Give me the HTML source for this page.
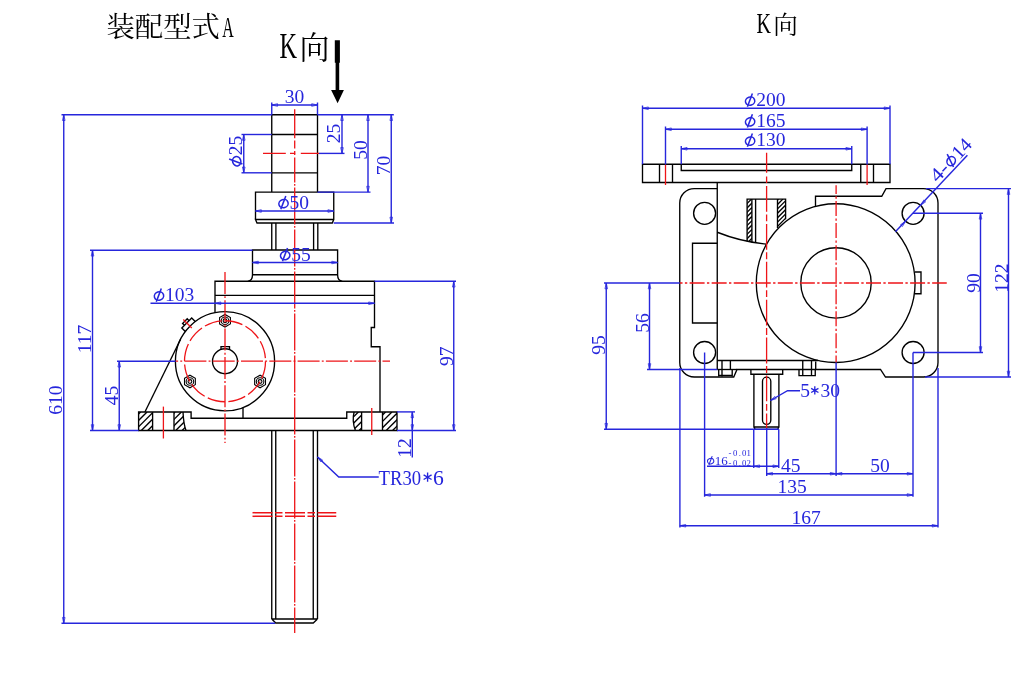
<!DOCTYPE html>
<html><head><meta charset="utf-8"><title>Drawing</title>
<style>
html,body{margin:0;padding:0;background:#fff;}
svg{display:block;will-change:transform;}
.k{fill:none;stroke:#000;stroke-width:1.35;}
.k2{fill:none;stroke:#000;stroke-width:1.1;}
.r2{fill:none;stroke:#ee1418;stroke-width:1.5;}
.b{fill:none;stroke:#2626dc;stroke-width:1.4;}
.as{fill:none;stroke:#2626dc;stroke-width:1.35;}
.r{fill:none;stroke:#ee1418;stroke-width:1.3;}
.ar{fill:none;stroke:#2626dc;stroke-width:0.75;}
.ph{fill:none;stroke:#2626dc;stroke-width:1.55;}
.t{font-family:"Liberation Serif",serif;fill:#2626dc;}
.tm{font-family:"Liberation Mono",monospace;fill:#2626dc;}
.tk{font-family:"Liberation Serif","Noto Serif CJK SC",serif;fill:#000;}
.g{fill:#000;}
</style></head><body>
<svg width="1024" height="674" viewBox="0 0 1024 674">
<title>装配型式A / K向</title>
<rect width="1024" height="674" fill="#fff"/>
<text class="tk" x="106.5" y="37.4" font-size="28" text-anchor="start" textLength="113.5" lengthAdjust="spacingAndGlyphs">装配型式</text>
<text class="tk" x="222.2" y="36.8" font-size="29.8" text-anchor="start" textLength="11.5" lengthAdjust="spacingAndGlyphs">A</text>
<text class="tk" x="279.4" y="57.6" font-size="36.5" text-anchor="start" textLength="17.5" lengthAdjust="spacingAndGlyphs">K</text>
<text class="tk" x="299.5" y="58.8" font-size="32" text-anchor="start" textLength="30" lengthAdjust="spacingAndGlyphs">向</text>
<text class="tk" x="756.5" y="32.9" font-size="30" text-anchor="start" textLength="14.5" lengthAdjust="spacingAndGlyphs">K</text>
<text class="tk" x="773.3" y="33.6" font-size="25.5" text-anchor="start" textLength="24.6" lengthAdjust="spacingAndGlyphs">向</text>
<path fill="#000" d="M334.8,40.3H339.9V62.7H339.2V90H343.9L337.6,103.2L331.1,90H335.6V62.7H334.8Z"/>
<path class="k" d="M271.75,192.1V114.7H317.5V192.1"/>
<path class="k" d="M271.75,134.5L317.5,134.5"/>
<path class="k" d="M271.75,172.8L317.5,172.8"/>
<path class="k" d="M255.5,219.5V192.1H333.75V219.5L332.3,223H257L255.5,219.5H333.75"/>
<path class="k" d="M271.75,223L271.75,250"/>
<path class="k" d="M275.9,223L275.9,250"/>
<path class="k" d="M313.6,223L313.6,250"/>
<path class="k" d="M317.8,223L317.8,250"/>
<path class="k" d="M247.8,281.3Q252.5,280.6 252.5,274.7V250H337.6V274.7Q337.6,280.6 342.3,281.3M252.5,274.7H337.6"/>
<path class="k" d="M215,312.5V281.25H374.5V327.5H371.25V346.75H380V412"/>
<path class="k" d="M215,295.3L374.5,295.3"/>
<circle class="k" cx="225" cy="361.25" r="49.6"/>
<path class="k" d="M221,349.41V346.6H229.5V349.59"/>
<circle class="k" cx="225" cy="361.25" r="12.5"/>
<polygon class="k2" points="230.41,323.88 225.00,327.00 219.59,323.88 219.59,317.62 225.00,314.50 230.41,317.62"/>
<circle class="k2" cx="225" cy="320.75" r="3.8"/>
<circle class="k2" cx="225" cy="320.75" r="1.9"/>
<polygon class="k2" points="195.34,384.62 189.93,387.75 184.51,384.62 184.51,378.38 189.93,375.25 195.34,378.38"/>
<circle class="k2" cx="189.926" cy="381.5" r="3.8"/>
<circle class="k2" cx="189.926" cy="381.5" r="1.9"/>
<polygon class="k2" points="265.49,384.62 260.07,387.75 254.66,384.62 254.66,378.38 260.07,375.25 265.49,378.38"/>
<circle class="k2" cx="260.074" cy="381.5" r="3.8"/>
<circle class="k2" cx="260.074" cy="381.5" r="1.9"/>
<path class="k" d="M144.9,412L180.459,339.426"/>
<g transform="translate(225,361.25) rotate(-135)"><path class="k" d="M49.1,-7H54.1V7H49.1M54.1,-3.3H56.7V3.3H54.1"/><path class="r" d="M47,0H59"/></g>
<path class="k" d="M138.6,412H191.1V418.25H346.75V412H397V430.5H138.6Z"/>
<path class="k" d="M243,407.469L243,418.25"/>
<clipPath id="h1"><rect x="138.6" y="412" width="14" height="18.5"/></clipPath>
<clipPath id="h2"><path d="M174,412H183Q183.6,424 186,430.5H174Z"/></clipPath>
<clipPath id="h3"><path d="M361.6,412H354.1Q351.8,421 355.4,430.5H361.6Z"/></clipPath>
<clipPath id="h4"><rect x="382.5" y="412" width="14.5" height="18.5"/></clipPath>
<g clip-path="url(#h1)">
<path class="k" d="M122.1,430.5L140.6,412"/>
<path class="k" d="M128.5,430.5L147,412"/>
<path class="k" d="M134.9,430.5L153.4,412"/>
<path class="k" d="M141.3,430.5L159.8,412"/>
<path class="k" d="M147.7,430.5L166.2,412"/>
</g>
<g clip-path="url(#h2)">
<path class="k" d="M156.5,430.5L175,412"/>
<path class="k" d="M162.9,430.5L181.4,412"/>
<path class="k" d="M169.3,430.5L187.8,412"/>
<path class="k" d="M175.7,430.5L194.2,412"/>
<path class="k" d="M182.1,430.5L200.6,412"/>
</g>
<g clip-path="url(#h3)">
<path class="k" d="M333.5,430.5L352,412"/>
<path class="k" d="M339.9,430.5L358.4,412"/>
<path class="k" d="M346.3,430.5L364.8,412"/>
<path class="k" d="M352.7,430.5L371.2,412"/>
<path class="k" d="M359.1,430.5L377.6,412"/>
</g>
<g clip-path="url(#h4)">
<path class="k" d="M367,430.5L385.5,412"/>
<path class="k" d="M373.4,430.5L391.9,412"/>
<path class="k" d="M379.8,430.5L398.3,412"/>
<path class="k" d="M386.2,430.5L404.7,412"/>
<path class="k" d="M392.6,430.5L411.1,412"/>
</g>
<path class="k" d="M152.6,412L152.6,430.5"/>
<path class="k" d="M174,412L174,430.5"/>
<path class="k" d="M183,412Q183.6,424 186,430.5"/>
<path class="k" d="M361.6,412L361.6,430.5"/>
<path class="k" d="M382.5,412L382.5,430.5"/>
<path class="k" d="M354.1,412Q351.8,421 355.4,430.5"/>
<path class="k" d="M271.75,430.5L271.75,619"/>
<path class="k" d="M275.75,430.5L275.75,619"/>
<path class="k" d="M313.25,430.5L313.25,619"/>
<path class="k" d="M317.5,430.5L317.5,619"/>
<path class="k" d="M271.75,619H317.5M271.75,619L275.75,623H313.25L317.5,619"/>
<path class="r" d="M294.7,109.2V138.2M294.7,140.5V148.5M294.7,150.9V155.1"/>
<path class="r" d="M294.7,157.5L294.7,633" stroke-dasharray="37 1.7 1.6 1.7" stroke-dashoffset="12.1"/>
<path class="r" d="M263,153.4H285.8M290,153.4H295.2M300.8,153.4H319"/>
<path class="r" d="M225,272L225,443" stroke-dasharray="22 2.2 1.9 2.2"/>
<path class="r" d="M175.5,361.1L390,361.1" stroke-dasharray="22 2.2 1.9 2.2" stroke-dashoffset="19.4"/>
<circle class="r" cx="225" cy="361.25" r="40.5" stroke-dasharray="17.7 3.5"/>
<path class="r" d="M163.4,406.6L163.4,438.5"/>
<path class="r" d="M371.75,408L371.75,435"/>
<path class="r2" d="M252.5,512.7L336.25,512.7" stroke-dasharray="20 2.5 7.5 2.5"/>
<path class="r2" d="M252.5,516.3L336.25,516.3" stroke-dasharray="20 2.5 7.5 2.5"/>
<path class="b" d="M61.5,114.7L271.75,114.7"/>
<path class="b" d="M317.5,114.7L393.8,114.7"/>
<path class="b" d="M61.5,623.25L275,623.25"/>
<path class="b" d="M63.75,114.7L63.75,623.25"/>
<path class="ar" d="M63.75,114.70L65.05,120.50L62.45,120.50Z"/>
<path class="ar" d="M63.75,623.25L62.45,617.45L65.05,617.45Z"/>
<text class="t" x="62.3" y="400" font-size="19.5" text-anchor="middle" transform="rotate(-90 62.3 400)">610</text>
<path class="b" d="M90,250.25L252.5,250.25"/>
<path class="b" d="M90,430.5L138.6,430.5"/>
<path class="b" d="M92.5,250.25L92.5,430.5"/>
<path class="ar" d="M92.50,250.25L93.80,256.05L91.20,256.05Z"/>
<path class="ar" d="M92.50,430.50L91.20,424.70L93.80,424.70Z"/>
<text class="t" x="91.3" y="339" font-size="19.5" text-anchor="middle" transform="rotate(-90 91.3 339)">117</text>
<path class="b" d="M117,361.25L175.5,361.25"/>
<path class="b" d="M119.25,361.25L119.25,430.5"/>
<path class="ar" d="M119.25,361.25L120.55,367.05L117.95,367.05Z"/>
<path class="ar" d="M119.25,430.50L117.95,424.70L120.55,424.70Z"/>
<text class="t" x="118" y="395.5" font-size="19.5" text-anchor="middle" transform="rotate(-90 118 395.5)">45</text>
<path class="b" d="M150.5,303.25L374.5,303.25"/>
<path class="ar" d="M215.00,303.25L220.80,301.95L220.80,304.55Z"/>
<path class="ar" d="M374.50,303.25L368.70,304.55L368.70,301.95Z"/>
<g transform="translate(153.5,301.3) scale(1)"><ellipse class="ph" cx="5.5" cy="-5.3" rx="4.7" ry="4.1" transform="rotate(-18 5.5 -5.3)"/><path class="ph" d="M2.8,0.4L7.8,-12.9"/></g>
<text class="t" x="165.1" y="301.3" font-size="19.5" text-anchor="start">103</text>
<path class="b" d="M271.75,102.5L271.75,114.7"/>
<path class="b" d="M317.5,102.5L317.5,114.7"/>
<path class="b" d="M271.75,105L317.5,105"/>
<path class="ar" d="M271.75,105.00L277.55,103.70L277.55,106.30Z"/>
<path class="ar" d="M317.50,105.00L311.70,106.30L311.70,103.70Z"/>
<text class="t" x="294.5" y="103" font-size="19.5" text-anchor="middle">30</text>
<path class="b" d="M241.5,134.5L271.75,134.5"/>
<path class="b" d="M241.5,172.8L271.75,172.8"/>
<path class="b" d="M243.75,134.5L243.75,172.8"/>
<path class="ar" d="M243.75,134.50L245.05,140.30L242.45,140.30Z"/>
<path class="ar" d="M243.75,172.80L242.45,167.00L245.05,167.00Z"/>
<g transform="rotate(-90 242 166.8)">
<g transform="translate(242,166.8) scale(1)"><ellipse class="ph" cx="5.5" cy="-5.3" rx="4.7" ry="4.1" transform="rotate(-18 5.5 -5.3)"/><path class="ph" d="M2.8,0.4L7.8,-12.9"/></g>
<text class="t" x="253.6" y="166.8" font-size="19.5" text-anchor="start">25</text>
</g>
<path class="b" d="M319,153.4L344.5,153.4"/>
<path class="b" d="M342,114.7L342,153.4"/>
<path class="ar" d="M342.00,114.70L343.30,120.50L340.70,120.50Z"/>
<path class="ar" d="M342.00,153.40L340.70,147.60L343.30,147.60Z"/>
<text class="t" x="340.4" y="133.6" font-size="19.5" text-anchor="middle" transform="rotate(-90 340.4 133.6)">25</text>
<path class="b" d="M317.5,192.1L370.5,192.1"/>
<path class="b" d="M368,114.7L368,192.1"/>
<path class="ar" d="M368.00,114.70L369.30,120.50L366.70,120.50Z"/>
<path class="ar" d="M368.00,192.10L366.70,186.30L369.30,186.30Z"/>
<text class="t" x="366.7" y="149.9" font-size="19.5" text-anchor="middle" transform="rotate(-90 366.7 149.9)">50</text>
<path class="b" d="M333.75,223L394,223"/>
<path class="b" d="M391.25,114.7L391.25,223"/>
<path class="ar" d="M391.25,114.70L392.55,120.50L389.95,120.50Z"/>
<path class="ar" d="M391.25,223.00L389.95,217.20L392.55,217.20Z"/>
<text class="t" x="390.2" y="165.6" font-size="19.5" text-anchor="middle" transform="rotate(-90 390.2 165.6)">70</text>
<path class="b" d="M255.5,211L333.75,211"/>
<path class="ar" d="M255.50,211.00L261.30,209.70L261.30,212.30Z"/>
<path class="ar" d="M333.75,211.00L327.95,212.30L327.95,209.70Z"/>
<g transform="translate(278,208.9) scale(1)"><ellipse class="ph" cx="5.5" cy="-5.3" rx="4.7" ry="4.1" transform="rotate(-18 5.5 -5.3)"/><path class="ph" d="M2.8,0.4L7.8,-12.9"/></g>
<text class="t" x="289.6" y="208.9" font-size="19.5" text-anchor="start">50</text>
<path class="b" d="M252.5,262.5L337.6,262.5"/>
<path class="ar" d="M252.50,262.50L258.30,261.20L258.30,263.80Z"/>
<path class="ar" d="M337.60,262.50L331.80,263.80L331.80,261.20Z"/>
<g transform="translate(279.7,260.8) scale(1)"><ellipse class="ph" cx="5.5" cy="-5.3" rx="4.7" ry="4.1" transform="rotate(-18 5.5 -5.3)"/><path class="ph" d="M2.8,0.4L7.8,-12.9"/></g>
<text class="t" x="291.3" y="260.8" font-size="19.5" text-anchor="start">55</text>
<path class="b" d="M374.5,281.25L456,281.25"/>
<path class="b" d="M397,430.5L456,430.5"/>
<path class="b" d="M453.75,281.25L453.75,430.5"/>
<path class="ar" d="M453.75,281.25L455.05,287.05L452.45,287.05Z"/>
<path class="ar" d="M453.75,430.50L452.45,424.70L455.05,424.70Z"/>
<text class="t" x="452.8" y="356.25" font-size="19.5" text-anchor="middle" transform="rotate(-90 452.8 356.25)">97</text>
<path class="b" d="M397,411.9L415,411.9"/>
<path class="b" d="M412.3,411.9L412.3,457.5"/>
<path class="ar" d="M412.30,411.90L413.60,417.70L411.00,417.70Z"/>
<path class="ar" d="M412.30,430.50L411.00,424.70L413.60,424.70Z"/>
<text class="t" x="411.3" y="448" font-size="19.5" text-anchor="middle" transform="rotate(-90 411.3 448)">12</text>
<path class="b" d="M317.5,457L338.75,477H378.75"/>
<path class="ar" d="M317.50,457.00L322.63,460.00L320.86,461.91Z"/>
<text class="t" x="378.6" y="484.8" font-size="21.6" text-anchor="start" textLength="42.6" lengthAdjust="spacingAndGlyphs">TR30</text>
<path class="as" d="M427.60,481.80L427.60,472.60M423.62,479.50L431.58,474.90M423.62,474.90L431.58,479.50"/>
<text class="t" x="433" y="484.8" font-size="21.6" text-anchor="start">6</text>
<path class="k" d="M642.5,164.25H890V182.5H642.5Z"/>
<path class="k" d="M681.25,164.25V170.5H851.75V164.25"/>
<path class="k" d="M659.5,164.25L659.5,182.5"/>
<path class="k" d="M672.5,164.25L672.5,182.5"/>
<path class="k" d="M860.75,164.25L860.75,182.5"/>
<path class="k" d="M873.5,164.25L873.5,182.5"/>
<path class="k" d="M717.25,182.5L717.25,369.5"/>
<path class="k" d="M717.25,188.6H694.25A14.5,14.5 0 0 0 679.75,203.1V362.5A14.5,14.5 0 0 0 694.25,377H733.75L737,369.5H880.5L885.5,377H923.5A14.5,14.5 0 0 0 938,362.5V203.1A14.5,14.5 0 0 0 923.5,188.6H886L881.75,196.25H815.5V206.3"/>
<path class="k" d="M717.25,369.5L737,369.5"/>
<circle class="k" cx="704.6" cy="213.3" r="11"/>
<circle class="k" cx="913.1" cy="213.3" r="11"/>
<circle class="k" cx="704.6" cy="352.5" r="11"/>
<circle class="k" cx="913.1" cy="352.5" r="11"/>
<path class="k" d="M717.25,243.25H692.5V323H717.25"/>
<path class="k" d="M717.25,360.5L818,360.5"/>
<path class="k" d="M717.25,232.25A176,176 0 0 0 766.25,244.1"/>
<circle class="k" cx="835.7" cy="283.1" r="79.4"/>
<circle class="k" cx="836" cy="282.9" r="35.2"/>
<path class="k" d="M915,272H921V293.75H915"/>
<clipPath id="h5"><path d="M747.1,199.1H751.9V242.3L747.1,241.2Z"/></clipPath>
<clipPath id="h6"><path d="M777.5,199.1H785.6V219.3L777.5,228Z"/></clipPath>
<g clip-path="url(#h5)">
<path class="k" d="M703.2,243L747.1,199.1"/>
<path class="k" d="M707.6,243L751.5,199.1"/>
<path class="k" d="M712,243L755.9,199.1"/>
<path class="k" d="M716.4,243L760.3,199.1"/>
<path class="k" d="M720.8,243L764.7,199.1"/>
<path class="k" d="M725.2,243L769.1,199.1"/>
<path class="k" d="M729.6,243L773.5,199.1"/>
<path class="k" d="M734,243L777.9,199.1"/>
<path class="k" d="M738.4,243L782.3,199.1"/>
<path class="k" d="M742.8,243L786.7,199.1"/>
<path class="k" d="M747.2,243L791.1,199.1"/>
<path class="k" d="M751.6,243L795.5,199.1"/>
</g>
<g clip-path="url(#h6)">
<path class="k" d="M748.6,229L778.5,199.1"/>
<path class="k" d="M753,229L782.9,199.1"/>
<path class="k" d="M757.4,229L787.3,199.1"/>
<path class="k" d="M761.8,229L791.7,199.1"/>
<path class="k" d="M766.2,229L796.1,199.1"/>
<path class="k" d="M770.6,229L800.5,199.1"/>
<path class="k" d="M775,229L804.9,199.1"/>
<path class="k" d="M779.4,229L809.3,199.1"/>
<path class="k" d="M783.8,229L813.7,199.1"/>
</g>
<path class="k" d="M747.1,241.3V199.1H785.6V219.3M751.9,199.1V242.3M755.6,199.1V243M777.5,199.1V228"/>
<path class="k" d="M718.7,369.5V376.6M722,360V376.6M730.4,360V369.5M732.2,369.5V376.6M718.7,375.4H732.2"/>
<path class="k" d="M799,369.4V375.6H815.25V369.4M802.75,360V375.6M811.5,360V375.6M815.7,361.5V369.4"/>
<path class="k" d="M750.9,369.5V374.2H782.7V369.5M753.9,374.2V427L755.2,429.3H777.6L778.9,427V374.2M753.9,427H778.9"/>
<path class="k" d="M762.5,381.3A4.15,4.15 0 0 1 770.8,381.3V420.3A4.15,4.15 0 0 1 762.5,420.3Z"/>
<path class="r" d="M766.6,152.7V172.8M766.6,176.6V183.1"/>
<path class="r" d="M766.6,186L766.6,428" stroke-dasharray="25.8 2.6 6.9 2.6"/>
<path class="r" d="M836.1,185.2L836.1,362.5" stroke-dasharray="15 2.35 2.35 2.35" stroke-dashoffset="6.2"/>
<path class="r" d="M679.75,283L946.75,283" stroke-dasharray="15 2.35 2.35 2.35" stroke-dashoffset="12.2"/>
<path class="r" d="M665.5,164.5L665.5,185"/>
<path class="r" d="M867.1,164.5L867.1,185"/>
<path class="b" d="M642.5,105.5L642.5,164.25"/>
<path class="b" d="M890,105.5L890,164.25"/>
<path class="b" d="M642.5,108.25L890,108.25"/>
<path class="ar" d="M642.50,108.25L648.30,106.95L648.30,109.55Z"/>
<path class="ar" d="M890.00,108.25L884.20,109.55L884.20,106.95Z"/>
<g transform="translate(744.6,106.4) scale(1)"><ellipse class="ph" cx="5.5" cy="-5.3" rx="4.7" ry="4.1" transform="rotate(-18 5.5 -5.3)"/><path class="ph" d="M2.8,0.4L7.8,-12.9"/></g>
<text class="t" x="756.2" y="106.4" font-size="19.5" text-anchor="start">200</text>
<path class="b" d="M665.5,126.5L665.5,164.5"/>
<path class="b" d="M867.1,126.5L867.1,164.5"/>
<path class="b" d="M665.5,129.25L867.1,129.25"/>
<path class="ar" d="M665.50,129.25L671.30,127.95L671.30,130.55Z"/>
<path class="ar" d="M867.10,129.25L861.30,130.55L861.30,127.95Z"/>
<g transform="translate(744.6,127.1) scale(1)"><ellipse class="ph" cx="5.5" cy="-5.3" rx="4.7" ry="4.1" transform="rotate(-18 5.5 -5.3)"/><path class="ph" d="M2.8,0.4L7.8,-12.9"/></g>
<text class="t" x="756.2" y="127.1" font-size="19.5" text-anchor="start">165</text>
<path class="b" d="M681.25,146L681.25,164.25"/>
<path class="b" d="M851.75,146L851.75,164.25"/>
<path class="b" d="M681.25,148.75L851.75,148.75"/>
<path class="ar" d="M681.25,148.75L687.05,147.45L687.05,150.05Z"/>
<path class="ar" d="M851.75,148.75L845.95,150.05L845.95,147.45Z"/>
<g transform="translate(744.6,146.4) scale(1)"><ellipse class="ph" cx="5.5" cy="-5.3" rx="4.7" ry="4.1" transform="rotate(-18 5.5 -5.3)"/><path class="ph" d="M2.8,0.4L7.8,-12.9"/></g>
<text class="t" x="756.2" y="146.4" font-size="19.5" text-anchor="start">130</text>
<path class="b" d="M895.4,231.7L967.4,155.3"/>
<path class="ar" d="M920.71,205.22L923.74,200.11L925.64,201.89Z"/>
<path class="ar" d="M905.49,221.38L902.46,226.49L900.56,224.71Z"/>
<g transform="translate(937.53,183.29) rotate(-46.70)">
<text class="t" x="0" y="0" font-size="19.5" text-anchor="start" textLength="19" lengthAdjust="spacingAndGlyphs">4-</text>
<g transform="translate(20,0) scale(1)"><ellipse class="ph" cx="5.5" cy="-5.3" rx="4.7" ry="4.1" transform="rotate(-18 5.5 -5.3)"/><path class="ph" d="M2.8,0.4L7.8,-12.9"/></g>
<text class="t" x="32" y="0" font-size="19.5" text-anchor="start" textLength="19.8" lengthAdjust="spacingAndGlyphs">14</text>
</g>
<path class="b" d="M926,188.6L1011,188.6"/>
<path class="b" d="M925,377L1011,377"/>
<path class="b" d="M1008.5,188.6L1008.5,377"/>
<path class="ar" d="M1008.50,188.60L1009.80,194.40L1007.20,194.40Z"/>
<path class="ar" d="M1008.50,377.00L1007.20,371.20L1009.80,371.20Z"/>
<text class="t" x="1007.5" y="278" font-size="19.5" text-anchor="middle" transform="rotate(-90 1007.5 278)">122</text>
<path class="b" d="M913,213.3L983,213.3"/>
<path class="b" d="M913,352.5L983,352.5"/>
<path class="b" d="M980.5,213.3L980.5,352.5"/>
<path class="ar" d="M980.50,213.30L981.80,219.10L979.20,219.10Z"/>
<path class="ar" d="M980.50,352.50L979.20,346.70L981.80,346.70Z"/>
<text class="t" x="979.5" y="283" font-size="19.5" text-anchor="middle" transform="rotate(-90 979.5 283)">90</text>
<path class="b" d="M604,283L679.75,283"/>
<path class="b" d="M604,429.25L778.75,429.25"/>
<path class="b" d="M606.25,283L606.25,429.25"/>
<path class="ar" d="M606.25,283.00L607.55,288.80L604.95,288.80Z"/>
<path class="ar" d="M606.25,429.25L604.95,423.45L607.55,423.45Z"/>
<text class="t" x="605" y="345" font-size="19.5" text-anchor="middle" transform="rotate(-90 605 345)">95</text>
<path class="b" d="M647,369.5L717.25,369.5"/>
<path class="b" d="M649.5,283L649.5,369.5"/>
<path class="ar" d="M649.50,283.00L650.80,288.80L648.20,288.80Z"/>
<path class="ar" d="M649.50,369.50L648.20,363.70L650.80,363.70Z"/>
<text class="t" x="648.5" y="323" font-size="19.5" text-anchor="middle" transform="rotate(-90 648.5 323)">56</text>
<path class="b" d="M679.9,368L679.9,527.5"/>
<path class="b" d="M704.6,352.5L704.6,496.75"/>
<path class="b" d="M753.75,429.25L753.75,468"/>
<path class="b" d="M778.75,429.25L778.75,468"/>
<path class="b" d="M766.7,428L766.7,476"/>
<path class="b" d="M836.1,362.5L836.1,476"/>
<path class="b" d="M913,352.5L913,496.75"/>
<path class="b" d="M938,368L938,527.5"/>
<path class="b" d="M707,466.25L778.75,466.25"/>
<path class="ar" d="M753.75,466.25L759.55,464.95L759.55,467.55Z"/>
<path class="ar" d="M778.75,466.25L772.95,467.55L772.95,464.95Z"/>
<g transform="translate(707,464.7) scale(0.666667)"><ellipse class="ph" cx="5.5" cy="-5.3" rx="4.7" ry="4.1" transform="rotate(-18 5.5 -5.3)"/><path class="ph" d="M2.8,0.4L7.8,-12.9"/></g>
<text class="t" x="714.733" y="464.7" font-size="13" text-anchor="start">16</text>
<text class="t" x="728.60 733.05 738.70 741.95 746.40" y="456.3" font-size="8.8">-0.01</text>
<text class="t" x="728.60 733.05 738.70 741.95 746.40" y="465.6" font-size="8.8">-0.02</text>
<path class="b" d="M766.7,473.75L836.1,473.75"/>
<path class="ar" d="M766.70,473.75L772.50,472.45L772.50,475.05Z"/>
<path class="ar" d="M836.10,473.75L830.30,475.05L830.30,472.45Z"/>
<path class="b" d="M836.1,473.75L913,473.75"/>
<path class="ar" d="M836.10,473.75L841.90,472.45L841.90,475.05Z"/>
<path class="ar" d="M913.00,473.75L907.20,475.05L907.20,472.45Z"/>
<text class="t" x="781" y="472" font-size="19.5" text-anchor="start">45</text>
<text class="t" x="870.3" y="472" font-size="19.5" text-anchor="start">50</text>
<path class="b" d="M704.6,495L913,495"/>
<path class="ar" d="M704.60,495.00L710.40,493.70L710.40,496.30Z"/>
<path class="ar" d="M913.00,495.00L907.20,496.30L907.20,493.70Z"/>
<text class="t" x="777.5" y="492.6" font-size="19.5" text-anchor="start">135</text>
<path class="b" d="M679.9,525.75L938,525.75"/>
<path class="ar" d="M679.90,525.75L685.70,524.45L685.70,527.05Z"/>
<path class="ar" d="M938.00,525.75L932.20,527.05L932.20,524.45Z"/>
<text class="t" x="791.5" y="524.3" font-size="19.5" text-anchor="start">167</text>
<path class="b" d="M770.5,400.5L787.5,390.7H800"/>
<path class="ar" d="M770.50,400.50L774.87,396.47L776.17,398.73Z"/>
<text class="t" x="800.3" y="397" font-size="19.5" text-anchor="start">5</text>
<path class="as" d="M814.80,394.60L814.80,386.20M811.16,392.50L818.44,388.30M811.16,388.30L818.44,392.50"/>
<text class="t" x="820.4" y="397" font-size="19.5" text-anchor="start">30</text>
</svg>
</body></html>
